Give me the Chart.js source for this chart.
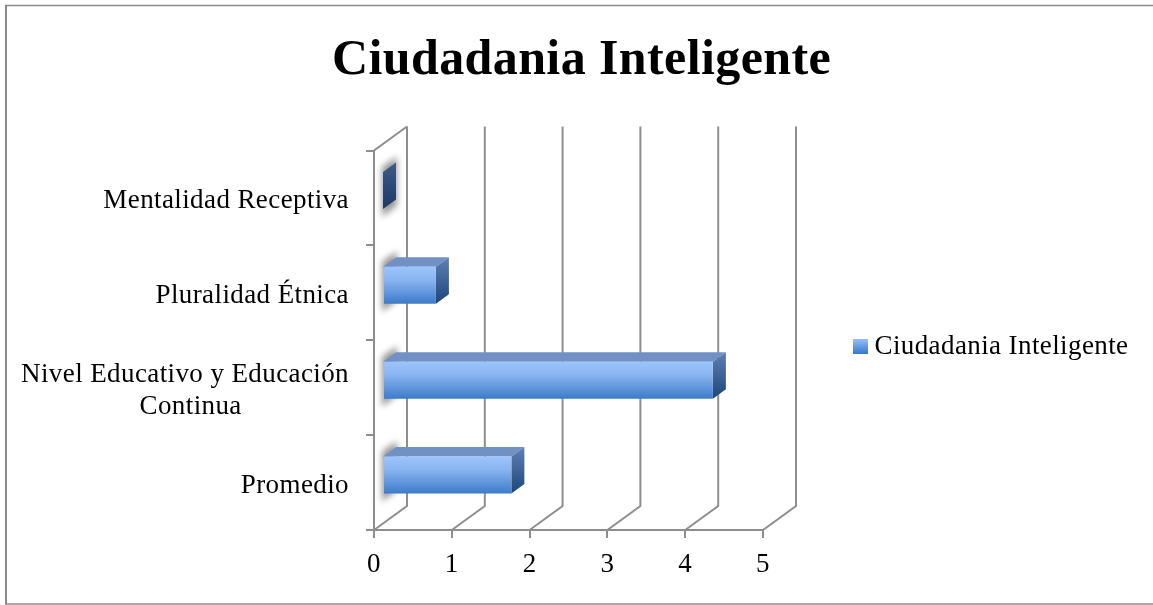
<!DOCTYPE html>
<html><head><meta charset="utf-8">
<style>html,body{margin:0;padding:0;background:#fff}#w{position:relative;width:1153px;height:605px}</style>
<script src="https://cdn.jsdelivr.net/npm/chart.js@4"></script>
</head><body><div id="w"><canvas id="c" width="1153" height="605"></canvas></div>
<script>
const categories = ['Mentalidad Receptiva','Pluralidad Étnica','Nivel Educativo y Educación Continua','Promedio'];
const categoryLabels = ['Mentalidad Receptiva','Pluralidad Étnica',['Nivel Educativo y Educación','Continua'+' '.repeat(15)],'Promedio'];
const seriesName = 'Ciudadania Inteligente';
const seriesValues = [0,0.68,4.24,1.65];
const xTicks = [0,1,2,3,4,5];
const FONT = '"Liberation Serif"';
const GRID = '#8e8e8e';
const SPACING = '0.4px';
const DX = 33, DY = -24;           // wall depth
const BX = 9, BY = -7.5;           // bar inset in depth
const SX = 13, SY = -9.5;          // bar depth
const LEGEND_DY = 44;
const YLABEL_DY = 3;

function faceGradient(ctx, top, bottom){
  const g = ctx.createLinearGradient(0, top, 0, bottom);
  g.addColorStop(0,'#9cc4fd'); g.addColorStop(0.35,'#8ab5f0'); g.addColorStop(1,'#3c7bca');
  return g;
}
const depth3d = {
  id:'depth3d',
  beforeLayout(chart){
    chart.ctx.letterSpacing=SPACING;
    const l = chart.legend;
    if(!l._patched){
      const f = l.fit; l.fit = function(){ f.call(this); this.width = 390; };
      const d = l.draw; l.draw = function(){ const c=this.ctx; c.save(); c.translate(0,LEGEND_DY); d.call(this); c.restore(); };
      l._patched = true;
    }
  },
  afterLayout(chart){
    const s = chart.scales.y;
    if(!s._patched){
      const d = s.drawLabels; s.drawLabels = function(a){ const c=this.ctx; c.save(); c.translate(0,YLABEL_DY); d.call(this,a); c.restore(); };
      s._patched = true;
    }
  },
  beforeDraw(chart){
    const c = chart.ctx;
    c.letterSpacing=SPACING;
    c.save(); c.strokeStyle='#8a8a8a';
    c.lineWidth=2; c.beginPath(); c.moveTo(6,604); c.lineTo(6,5); c.stroke();
    c.lineWidth=1.5; c.beginPath(); c.moveTo(5,5.5); c.lineTo(1153,5.5); c.moveTo(5,604); c.lineTo(1153,604); c.stroke();
    c.restore();
  },
  beforeDatasetsDraw(chart){
    const c = chart.ctx, {x,y} = chart.scales, a = chart.chartArea;
    c.save(); c.strokeStyle=GRID; c.lineWidth=2;
    xTicks.forEach(v=>{
      const px = x.getPixelForValue(v);
      c.beginPath(); c.moveTo(px,a.bottom); c.lineTo(px+DX,a.bottom+DY); c.lineTo(px+DX,a.top+DY); c.stroke();
    });
    const x0 = x.getPixelForValue(0);
    c.beginPath(); c.moveTo(x0,a.top); c.lineTo(x0+DX,a.top+DY); c.stroke();
    const bars = chart.getDatasetMeta(0).data;
    const bx = x0+BX;
    c.save(); c.filter='blur(3px)'; c.fillStyle='#989898';
    bars.forEach(b=>{
      const h=b.height, t=b.y-h/2+BY, bt=b.y+h/2+BY;
      c.beginPath();
      c.moveTo(bx-1,t-5); c.lineTo(bx+SX+1,t+SY-6); c.lineTo(bx+SX+1,bt+SY+6); c.lineTo(bx-1,bt+8); c.closePath(); c.fill();
    });
    c.restore();
    c.restore();
    c.save();
    bars.forEach(b=>{
      const h=b.height, t=b.y-h/2+BY, bt=b.y+h/2+BY, r=b.x+BX;
      const flat = Math.abs(b.x-x0)<0.5;
      c.fillStyle='#7190c4';
      c.beginPath(); c.moveTo(bx,t); c.lineTo(bx+SX,t+SY); c.lineTo(r+SX,t+SY); c.lineTo(r,t); c.closePath(); c.fill();
      const g=c.createLinearGradient(0,t+SY,0,bt);
      g.addColorStop(0,flat?'#3e5a88':'#5f80b4'); g.addColorStop(1,flat?'#1b3a66':'#1d4679');
      c.fillStyle=g;
      c.beginPath(); c.moveTo(r,t); c.lineTo(r+SX,t+SY); c.lineTo(r+SX,bt+SY); c.lineTo(r,bt); c.closePath(); c.fill();
    });
    c.restore();
    c.save(); c.translate(BX,BY);
  },
  afterDatasetsDraw(chart){ chart.ctx.restore(); }
};
new Chart(document.getElementById('c'),{
  type:'bar',
  plugins:[depth3d],
  data:{labels:categoryLabels,datasets:[{
    label:seriesName,data:seriesValues,
    categoryPercentage:1,barPercentage:0.39,
    backgroundColor(ctx){
      const ch=ctx.chart;
      if(ctx.dataIndex===undefined||!ch.scales.y) return '#6fa3e6';
      const yc=ch.scales.y.getPixelForValue(ctx.dataIndex);
      return faceGradient(ch.ctx,yc-18.5,yc+18.5);
    }
  }]},
  options:{
    indexAxis:'y',responsive:false,animation:false,
    layout:{padding:{left:10,right:0,top:0,bottom:0}},
    scales:{
      x:{min:0,max:5,
        afterFit(s){s.height=75;},
        ticks:{stepSize:1,color:'#000',font:{family:FONT,size:27},padding:11},
        grid:{drawOnChartArea:false,drawTicks:true,tickLength:8,color:GRID,lineWidth:2},
        border:{color:GRID,width:2}},
      y:{
        afterFit(s){s.width=364;},
        ticks:{color:'#000',font:{family:FONT,size:27,lineHeight:1.2},padding:17,autoSkip:false},
        grid:{drawOnChartArea:false,drawTicks:true,tickLength:8,color:GRID,lineWidth:2,offset:true},
        border:{color:GRID,width:2}}
    },
    plugins:{
      title:{display:true,text:seriesName,color:'#000',font:{family:FONT,size:50,weight:'bold'},padding:{top:31,bottom:59.5}},
      legend:{position:'right',align:'center',labels:{
        padding:97,boxWidth:1,boxHeight:15,usePointStyle:true,color:'#000',font:{family:FONT,size:27},
        generateLabels(ch){
          const g=ch.ctx.createLinearGradient(0,338-LEGEND_DY,0,353-LEGEND_DY);
          g.addColorStop(0,'#9cc4fd');g.addColorStop(1,'#3c7bca');
          return [{text:seriesName,fillStyle:g,strokeStyle:'transparent',lineWidth:0,pointStyle:'rect',datasetIndex:0,hidden:false}];
        }}},
      tooltip:{enabled:false}
    }
  }
});
</script></body></html>
